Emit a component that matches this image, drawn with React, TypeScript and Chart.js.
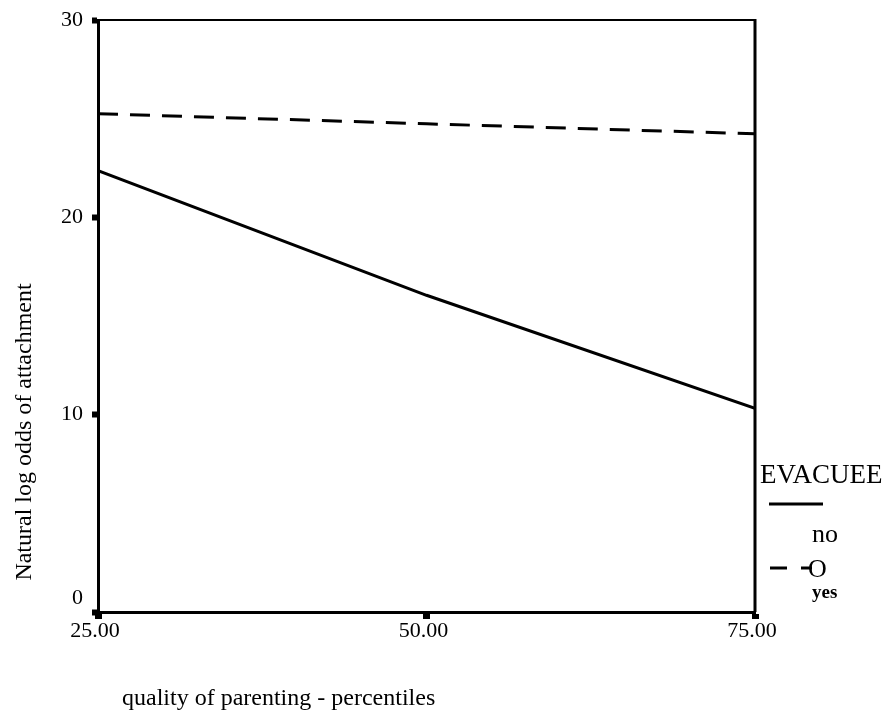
import React, { useEffect, useRef } from "react";
import { Chart, registerables } from "chart.js";

Chart.register(...registerables);

const xValues = [25, 50, 75];
const noValues = [22.36, 16.05, 10.32];
const yesValues = [25.25, 24.74, 24.23];
const yTickValues = [0, 10, 20, 30];
const xTitle = "quality of parenting - percentiles";
const yTitle = "Natural log odds of attachment";
const legendTitle = "EVACUEE";
const seriesLabels = ["no", "yes"];

const SERIF = "'Liberation Serif', 'Times New Roman', serif";

const decorPlugin = {
  id: "decor",
  afterDraw(chart: any) {
    const ctx = chart.ctx as CanvasRenderingContext2D;
    const area = chart.chartArea;
    const xs = chart.scales.x;
    const ys = chart.scales.y;
    ctx.save();
    // frame top and right
    ctx.strokeStyle = "#000";
    ctx.lineWidth = 2;
    ctx.beginPath();
    ctx.moveTo(area.left, area.top);
    ctx.lineTo(area.right, area.top);
    ctx.stroke();
    ctx.lineWidth = 3;
    ctx.beginPath();
    ctx.moveTo(area.right, area.top - 1);
    ctx.lineTo(area.right, area.bottom);
    ctx.stroke();

    ctx.fillStyle = "#000";
    // y tick labels
    ctx.font = `22px ${SERIF}`;
    ctx.textAlign = "right";
    ctx.textBaseline = "middle";
    yTickValues.forEach((v) => {
      let py = ys.getPixelForValue(v);
      if (v === 0) py -= 14;
      ctx.fillText(String(v), 83, py);
    });
    // x tick labels
    ctx.textAlign = "center";
    ctx.textBaseline = "alphabetic";
    xValues.forEach((v) => {
      const px = xs.getPixelForValue(v);
      ctx.fillText(v.toFixed(2), px - 3, 637);
    });

    // axis titles
    ctx.font = `24px ${SERIF}`;
    ctx.textAlign = "left";
    ctx.fillText(xTitle, 122, 705);
    ctx.save();
    ctx.translate(31, 432);
    ctx.rotate(-Math.PI / 2);
    ctx.textAlign = "center";
    ctx.textBaseline = "alphabetic";
    ctx.fillText(yTitle, 0, 0);
    ctx.restore();

    // legend
    ctx.font = `27px ${SERIF}`;
    ctx.textAlign = "left";
    ctx.fillText(legendTitle, 760, 483);
    ctx.lineWidth = 3;
    ctx.beginPath();
    ctx.moveTo(769, 504);
    ctx.lineTo(823, 504);
    ctx.stroke();
    ctx.font = `26px ${SERIF}`;
    ctx.fillText(seriesLabels[0], 812, 542);
    ctx.beginPath();
    ctx.moveTo(770, 568);
    ctx.lineTo(787, 568);
    ctx.moveTo(801, 568);
    ctx.lineTo(812, 568);
    ctx.stroke();
    ctx.fillText("O", 808, 577);
    ctx.font = `bold 19px ${SERIF}`;
    ctx.fillText(seriesLabels[1], 812, 598);
    ctx.restore();
  },
};

export default function App() {
  const ref = useRef<HTMLCanvasElement>(null);
  useEffect(() => {
    document.body.style.margin = "0";
    const canvas = ref.current;
    if (!canvas) return;
    const chart = new Chart(canvas, {
      type: "line",
      data: {
        datasets: [
          {
            label: seriesLabels[0],
            data: xValues.map((x, i) => ({ x, y: noValues[i] })),
            borderColor: "#000",
            borderWidth: 3,
            pointRadius: 0,
            tension: 0,
          },
          {
            label: seriesLabels[1],
            data: xValues.map((x, i) => ({ x, y: yesValues[i] })),
            borderColor: "#000",
            borderWidth: 3,
            borderDash: [20, 12],
            pointRadius: 0,
            tension: 0,
          },
        ],
      },
      options: {
        animation: false,
        responsive: false,
        devicePixelRatio: 1,
        layout: { padding: { left: 0, right: 134, top: 20, bottom: 0 } },
        plugins: { legend: { display: false }, tooltip: { enabled: false } },
        scales: {
          x: {
            type: "linear",
            min: 25,
            max: 75,
            afterFit: (s: any) => {
              s.height = 102;
            },
            afterBuildTicks: (s: any) => {
              s.ticks = xValues.map((v) => ({ value: v }));
            },
            ticks: { display: false },
            grid: {
              drawOnChartArea: false,
              drawTicks: true,
              tickLength: 7,
              tickWidth: 7,
              tickColor: "#000",
            },
            border: { display: true, color: "#000", width: 3 },
          },
          y: {
            type: "linear",
            min: 0,
            max: 30,
            afterFit: (s: any) => {
              s.width = 98;
            },
            afterBuildTicks: (s: any) => {
              s.ticks = yTickValues.map((v) => ({ value: v }));
            },
            ticks: { display: false },
            grid: {
              drawOnChartArea: false,
              drawTicks: true,
              tickLength: 6,
              tickWidth: 6,
              tickColor: "#000",
            },
            border: { display: true, color: "#000", width: 3 },
          },
        },
      },
      plugins: [decorPlugin],
    });
    return () => chart.destroy();
  }, []);
  return (
    <div style={{ width: 889, height: 714, background: "#fff" }}>
      <canvas ref={ref} width={889} height={714} style={{ display: "block" }} />
    </div>
  );
}
